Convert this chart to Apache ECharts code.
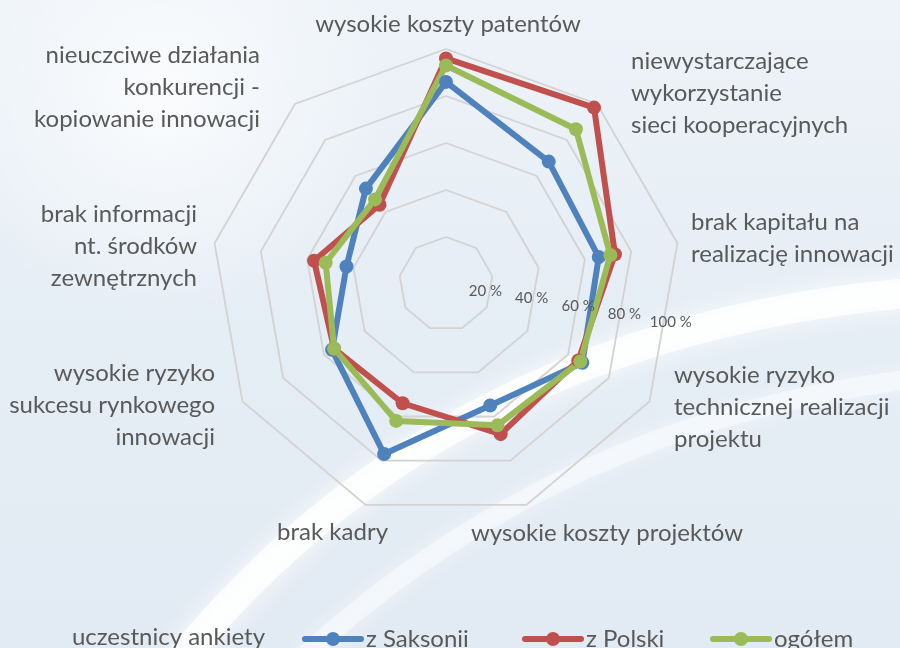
<!DOCTYPE html>
<html>
<head>
<meta charset="utf-8">
<script src="https://cdn.jsdelivr.net/npm/echarts@6/dist/echarts.min.js"></script>
<style>
html,body{margin:0;padding:0;}
#chart{width:900px;height:648px;}
</style>
</head>
<body>
<div id="chart"></div>
<script>
// ---- data (categories listed clockwise from the top) ----
const indicatorNames = [
  'wysokie koszty patentów',
  'niewystarczające\nwykorzystanie\nsieci kooperacyjnych',
  'brak kapitału na\nrealizację innowacji',
  'wysokie ryzyko\ntechnicznej realizacji\nprojektu',
  'wysokie koszty projektów',
  'brak kadry',
  'wysokie ryzyko\nsukcesu rynkowego\ninnowacji',
  'brak informacji\nnt. środków\nzewnętrznych',
  'nieuczciwe działania\nkonkurencji -\nkopiowanie innowacji'
];
const seriesNames = ['z Saksonii', 'z Polski', 'ogółem'];
const saksonia = [86, 68, 66, 67, 55, 77, 56, 43, 53];
const polska   = [96, 98, 73, 65, 68, 54, 55, 57, 44];
const ogolem   = [93, 86, 71, 66, 64, 62, 55, 52, 47];
const tickLabels = ['20 %', '40 %', '60 %', '80 %', '100 %'];
const legendTitle = 'uczestnicy ankiety';

// ---- layout (positions of category names) ----
const nameLayout = [
  {x: 448, y: 24,  align: 'center'},
  {x: 631, y: 93,  align: 'left'},
  {x: 691, y: 238, align: 'left'},
  {x: 674, y: 407, align: 'left'},
  {x: 471, y: 533, align: 'left'},
  {x: 388, y: 532, align: 'right'},
  {x: 215, y: 405, align: 'right'},
  {x: 197, y: 246, align: 'right'},
  {x: 260, y: 87,  align: 'right'}
];
const colors = ['#4F81BD', '#C0504D', '#9BBB59'];
const FONT = 'Lato';
const TXT = '#595959';

// ECharts radar places indicators counter-clockwise: reorder so they run clockwise
function cw(arr) { return [arr[0]].concat(arr.slice(1).reverse()); }

const chart = echarts.init(document.getElementById('chart'));

const legendIcon = 'path://M3,4 L59,4 A3,3 0 0 1 59,10 L3,10 A3,3 0 0 1 3,4 Z M24,7 A7,7 0 1 1 38,7 A7,7 0 1 1 24,7 Z';

const graphics = [
  {type: 'rect', z: -10, silent: true, shape: {x: 0, y: 0, width: 900, height: 648},
   style: {fill: new echarts.graphic.RadialGradient(0.18, 0.15, 0.35, [
     {offset: 0, color: 'rgba(255,255,255,0.75)'},
     {offset: 1, color: 'rgba(255,255,255,0)'}])}},
  {type: 'bezierCurve', z: -9, silent: true,
   shape: {x1: 180, y1: 660, cpx1: 450, cpy1: 330, x2: 920, y2: 292},
   style: {stroke: 'rgba(255,255,255,0.8)', lineWidth: 30, fill: null, shadowBlur: 25, shadowColor: '#ffffff'}},
  {type: 'bezierCurve', z: -9, silent: true,
   shape: {x1: 300, y1: 660, cpx1: 560, cpy1: 420, x2: 920, y2: 378},
   style: {stroke: 'rgba(255,255,255,0.45)', lineWidth: 20, fill: null, shadowBlur: 20, shadowColor: '#ffffff'}}
];
indicatorNames.forEach(function (n, i) {
  graphics.push({
    type: 'text', z: 10, x: nameLayout[i].x, y: nameLayout[i].y,
    style: {text: n, fill: TXT, fontSize: 24, fontFamily: FONT,
            align: nameLayout[i].align, verticalAlign: 'middle', lineHeight: 32}
  });
});
graphics.push({
  type: 'text', z: 10, x: 265, y: 637,
  style: {text: legendTitle, fill: TXT, fontSize: 24, fontFamily: FONT, align: 'right', verticalAlign: 'middle'}
});

const legendLefts = [297, 517, 705];

const option = {
  backgroundColor: new echarts.graphic.LinearGradient(0, 0, 0, 1, [
    {offset: 0, color: '#eef3f8'},
    {offset: 0.5, color: '#e5edf5'},
    {offset: 1, color: '#e2eaf3'}
  ]),
  color: colors,
  animation: false,
  legend: seriesNames.map(function (s, i) {
    return {
      data: [{name: s, icon: legendIcon}],
      left: legendLefts[i], top: 622,
      itemWidth: 62, itemHeight: 14, itemGap: 0,
      selectedMode: false,
      textStyle: {fontSize: 24, fontFamily: FONT, color: TXT, padding: [0, 0, 0, -3]}
    };
  }),
  radar: {
    center: [446, 284],
    radius: 235,
    startAngle: 90,
    shape: 'polygon',
    splitNumber: 5,
    indicator: cw(indicatorNames).map(function (n) { return {name: n, min: 0, max: 100}; }),
    axisName: {show: false},
    axisLine: {show: false},
    axisTick: {show: false},
    axisLabel: {show: false},
    splitArea: {show: false},
    splitLine: {lineStyle: {color: '#d4d2d2', width: 1.8}}
  },
  polar: {center: [439, 283], radius: 235},
  angleAxis: {
    type: 'value', startAngle: -9.5, min: 0, max: 360,
    axisLine: {show: false}, axisTick: {show: false}, axisLabel: {show: false}, splitLine: {show: false}
  },
  radiusAxis: {
    type: 'value', min: 0, max: 100, interval: 20, z: 10,
    axisLine: {show: false}, axisTick: {show: false}, splitLine: {show: false},
    axisLabel: {
      showMinLabel: false, margin: 0, align: 'center', verticalAlign: 'middle',
      fontSize: 15, fontFamily: FONT, color: TXT,
      formatter: function (v) { return tickLabels[Math.round(v / 20) - 1] || ''; }
    }
  },
  series: [{
    type: 'radar',
    symbol: 'circle',
    symbolSize: 14,
    lineStyle: {width: 6},
    data: [
      {name: seriesNames[0], value: cw(saksonia), itemStyle: {color: colors[0]}, lineStyle: {color: colors[0], width: 6}},
      {name: seriesNames[1], value: cw(polska), itemStyle: {color: colors[1]}, lineStyle: {color: colors[1], width: 6}},
      {name: seriesNames[2], value: cw(ogolem), itemStyle: {color: colors[2]}, lineStyle: {color: colors[2], width: 6}}
    ]
  }],
  graphic: graphics
};
chart.setOption(option);
</script>
</body>
</html>
